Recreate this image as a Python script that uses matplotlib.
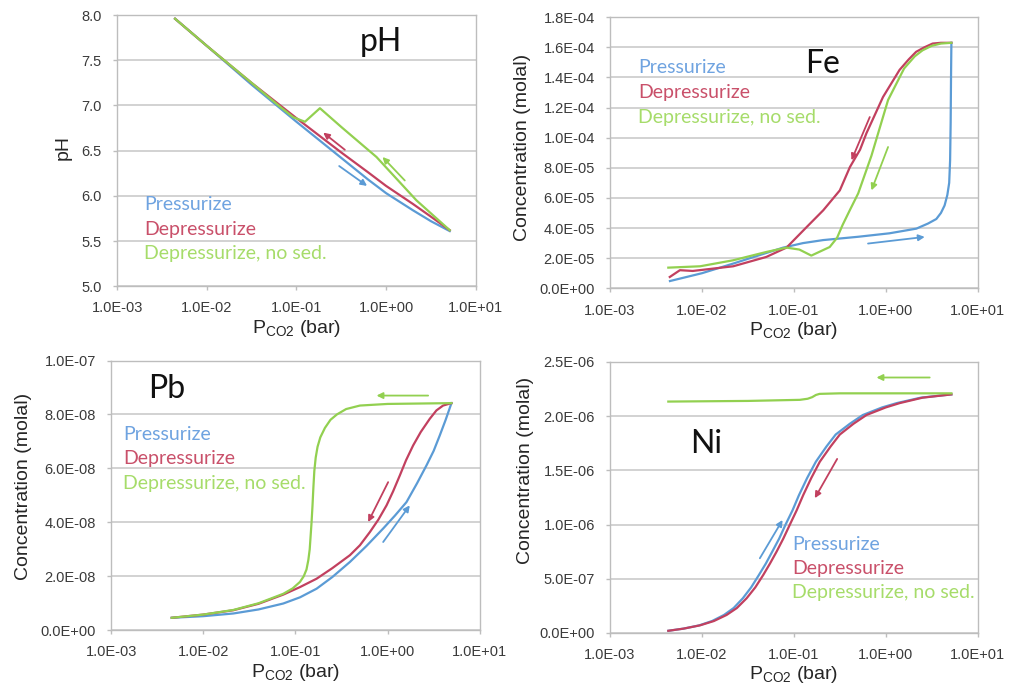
import numpy as np
import matplotlib
matplotlib.use('Agg')
import matplotlib.pyplot as plt
from matplotlib.ticker import FixedLocator, FuncFormatter, NullLocator

plt.rcParams['font.family'] = ['Liberation Sans', 'DejaVu Sans']
plt.rcParams['mathtext.default'] = 'regular'

BLUE = '#5b9bd5'
RED = '#c2405f'
GREEN = '#92d050'
TXT_BLUE = '#6fa3e0'
TXT_RED = '#c9506a'
TXT_GREEN = '#a6dc6a'
GRID = '#cfcfcf'
FRAME = '#bdbdbd'
TICK_TXT = '#3a3a3a'

series_names = ['Pressurize', 'Depressurize', 'Depressurize, no sed.']

# all pressures are given as log10(P_CO2 / bar)

# pH
ph_lp_press = [-2.354, -2.0, -1.5, -1.0, -0.5, -0.2, 0.0, 0.3, 0.5, 0.71]
ph_press = [7.96, 7.66, 7.23, 6.82, 6.42, 6.18, 6.03, 5.84, 5.72, 5.61]
ph_lp_depress = [-2.354, -2.0, -1.5, -1.0, -0.5, -0.2, 0.0, 0.3, 0.5, 0.71]
ph_depress = [7.96, 7.66, 7.25, 6.86, 6.48, 6.26, 6.11, 5.91, 5.77, 5.62]
ph_lp_nosed = [-2.354, -2.0, -1.5, -1.2, -1.036, -0.905, -0.738, -0.497, -0.107, 0.339, 0.71]
ph_nosed = [7.96, 7.66, 7.25, 7.00, 6.87, 6.82, 6.97, 6.76, 6.43, 5.95, 5.62]

# Fe concentration (molal)
fe_lp_press = [-2.348, -2.0, -1.66, -1.4, -1.116, -0.9, -0.681, -0.3, 0.04, 0.333, 0.46,
               0.55, 0.6, 0.64, 0.67, 0.69, 0.70, 0.706, 0.71, 0.714]
fe_press = [0.48e-5, 1.0e-5, 1.64e-5, 2.15e-5, 2.70e-5, 3.0e-5, 3.2e-5, 3.42e-5, 3.65e-5,
            3.96e-5, 4.3e-5, 4.6e-5, 5.0e-5, 5.5e-5, 6.2e-5, 7.0e-5, 8.5e-5, 11e-5, 14e-5,
            16.3e-5]
fe_lp_depress = [-2.35, -2.24, -2.1, -1.66, -1.3, -1.08, -0.86, -0.68, -0.5, -0.39, -0.28,
                 -0.21, -0.03, 0.15, 0.25, 0.33, 0.42, 0.51, 0.6, 0.714]
fe_depress = [0.75e-5, 1.2e-5, 1.15e-5, 1.46e-5, 2.08e-5, 2.70e-5, 4.07e-5, 5.18e-5, 6.5e-5,
              8.05e-5, 9.2e-5, 10.3e-5, 12.7e-5, 14.5e-5, 15.2e-5, 15.7e-5, 16.0e-5,
              16.25e-5, 16.3e-5, 16.3e-5]
fe_lp_nosed = [-2.366, -2.02, -1.66, -1.3, -1.08, -0.94, -0.81, -0.61, -0.53, -0.47, -0.39,
               -0.30, -0.156, 0.025, 0.2, 0.315, 0.4, 0.5, 0.6, 0.714]
fe_nosed = [1.37e-5, 1.46e-5, 1.86e-5, 2.41e-5, 2.70e-5, 2.57e-5, 2.17e-5, 2.74e-5, 3.35e-5,
            4.2e-5, 5.2e-5, 6.3e-5, 8.8e-5, 12.5e-5, 14.6e-5, 15.4e-5, 15.8e-5, 16.1e-5,
            16.25e-5, 16.3e-5]

# Pb concentration (molal)
pb_lp_press = [-2.342, -2.0, -1.674, -1.4, -1.132, -0.95, -0.77, -0.6, -0.409, -0.23, -0.048,
               0.08, 0.205, 0.32, 0.422, 0.5, 0.566, 0.63, 0.693]
pb_press = [0.46e-8, 0.52e-8, 0.62e-8, 0.77e-8, 0.99e-8, 1.22e-8, 1.54e-8, 1.97e-8, 2.53e-8,
            3.12e-8, 3.77e-8, 4.25e-8, 4.75e-8, 5.45e-8, 6.11e-8, 6.65e-8, 7.22e-8, 7.8e-8,
            8.42e-8]
pb_lp_depress = [-2.342, -2.0, -1.674, -1.4, -1.132, -0.95, -0.77, -0.6, -0.409, -0.3, -0.192,
                 -0.1, -0.011, 0.06, 0.133, 0.2, 0.277, 0.36, 0.458, 0.53, 0.602, 0.693]
pb_depress = [0.46e-8, 0.58e-8, 0.74e-8, 0.98e-8, 1.32e-8, 1.6e-8, 1.91e-8, 2.3e-8, 2.78e-8,
              3.15e-8, 3.64e-8, 4.1e-8, 4.63e-8, 5.15e-8, 5.74e-8, 6.3e-8, 6.85e-8, 7.35e-8,
              7.84e-8, 8.15e-8, 8.33e-8, 8.42e-8]
pb_lp_nosed = [-2.342, -2.0, -1.674, -1.4, -1.132, -1.03, -0.951, -0.91, -0.88, -0.86, -0.845,
               -0.835, -0.825, -0.815, -0.805, -0.795, -0.78, -0.76, -0.73, -0.68, -0.62,
               -0.55, -0.45, -0.3, 0.0, 0.693]
pb_nosed = [0.46e-8, 0.58e-8, 0.75e-8, 1.0e-8, 1.35e-8, 1.55e-8, 1.79e-8, 2.0e-8, 2.25e-8,
            2.6e-8, 3.0e-8, 3.5e-8, 4.0e-8, 4.6e-8, 5.3e-8, 5.9e-8, 6.4e-8, 6.8e-8, 7.15e-8,
            7.5e-8, 7.8e-8, 8.0e-8, 8.2e-8, 8.33e-8, 8.39e-8, 8.42e-8]

# Ni concentration (molal)
ni_lp_press = [-2.366, -2.2, -2.03, -1.89, -1.76, -1.655, -1.555, -1.465, -1.38, -1.305,
               -1.235, -1.16, -1.09, -1.015, -0.945, -0.855, -0.76, -0.645, -0.545, -0.39,
               -0.25, -0.04, 0.12, 0.38, 0.714]
ni_press = [0.02e-6, 0.04e-6, 0.07e-6, 0.11e-6, 0.166e-6, 0.23e-6, 0.32e-6, 0.42e-6,
            0.535e-6, 0.64e-6, 0.75e-6, 0.87e-6, 1.0e-6, 1.13e-6, 1.27e-6, 1.43e-6, 1.58e-6,
            1.72e-6, 1.83e-6, 1.93e-6, 2.01e-6, 2.08e-6, 2.12e-6, 2.17e-6, 2.2e-6]
ni_lp_depress = [-2.366, -2.2, -2.022, -1.87, -1.732, -1.62, -1.514, -1.42, -1.333, -1.26,
                 -1.188, -1.115, -1.043, -0.97, -0.899, -0.81, -0.717, -0.6, -0.5, -0.35,
                 -0.21, 0.0, 0.152, 0.4, 0.714]
ni_depress = [0.02e-6, 0.04e-6, 0.07e-6, 0.11e-6, 0.166e-6, 0.23e-6, 0.32e-6, 0.42e-6,
              0.535e-6, 0.64e-6, 0.75e-6, 0.87e-6, 1.0e-6, 1.13e-6, 1.27e-6, 1.43e-6, 1.58e-6,
              1.72e-6, 1.83e-6, 1.93e-6, 2.01e-6, 2.08e-6, 2.12e-6, 2.17e-6, 2.2e-6]
ni_lp_nosed = [-2.366, -1.5, -0.935, -0.85, -0.8, -0.76, -0.72, -0.5, 0.714]
ni_nosed = [2.134e-6, 2.14e-6, 2.15e-6, 2.16e-6, 2.175e-6, 2.195e-6, 2.205e-6, 2.21e-6, 2.21e-6]

# direction arrows: (log10 P start, log10 P end, y start, y end)
ph_arrows = [(-0.523, -0.212, 6.33, 6.11), (-0.460, -0.701, 6.51, 6.70),
             (0.209, -0.040, 6.17, 6.43)]
fe_arrows = [(-0.193, 0.424, 2.97e-5, 3.41e-5), (-0.174, -0.373, 11.37e-5, 8.5e-5),
             (0.025, -0.156, 9.38e-5, 6.5e-5)]
pb_arrows = [(-0.048, 0.241, 3.27e-8, 4.63e-8), (0.006, -0.211, 5.49e-8, 4.01e-8),
             (0.440, -0.120, 8.70e-8, 8.70e-8)]
ni_arrows = [(-1.37, -1.123, 0.689e-6, 1.042e-6), (-0.529, -0.772, 1.605e-6, 1.243e-6),
             (0.478, -0.101, 2.356e-6, 2.356e-6)]

x_ticks = [1e-3, 1e-2, 1e-1, 1e0, 1e1]


def sci(v, pos):
    return f'{v:.1E}'


def fixed(v, pos):
    return f'{v:.1f}'


def panel(rect, curves, arrows, yticks, yfmt, ylabel, ylab_xy, title, title_xy, leg_xy):
    ax = fig.add_axes(rect)
    for (lp, ys), c in zip(curves, [BLUE, RED, GREEN]):
        ax.plot(np.power(10.0, lp), ys, color=c, lw=1.6, zorder=3)
    for (l0, l1, y0, y1), c in zip(arrows, [BLUE, RED, GREEN]):
        ax.annotate('', xy=(10 ** l1, y1), xytext=(10 ** l0, y0),
                    arrowprops=dict(arrowstyle='-|>', color=c, lw=1.3,
                                    mutation_scale=9, shrinkA=0, shrinkB=0),
                    zorder=4)
    ax.set_xscale('log')
    ax.set_xlim(x_ticks[0], x_ticks[-1])
    ax.set_ylim(yticks[0], yticks[-1])
    ax.xaxis.set_major_locator(FixedLocator(x_ticks))
    ax.xaxis.set_minor_locator(NullLocator())
    ax.xaxis.set_major_formatter(FuncFormatter(sci))
    ax.yaxis.set_major_locator(FixedLocator(yticks))
    ax.yaxis.set_major_formatter(FuncFormatter(yfmt))
    ax.grid(axis='y', color=GRID, lw=1.3)
    ax.set_axisbelow(True)
    for s in ax.spines.values():
        s.set_color(FRAME)
        s.set_linewidth(1.0)
    ax.tick_params(length=3, width=1, color=FRAME, labelsize=10.5, labelcolor=TICK_TXT)
    ax.tick_params(axis='x', pad=8)
    ax.tick_params(axis='y', pad=8)
    ax.set_xlabel(r'P$_{CO2}$ (bar)', fontsize=14, color='#262626', va='center')
    ax.xaxis.set_label_coords(0.5, -0.155)
    ax.set_ylabel(ylabel, fontsize=14, color='#262626', va='center')
    ax.yaxis.set_label_coords(*ylab_xy)
    ax.text(*title_xy, title, transform=ax.transAxes, fontsize=23, family='Lato',
            ha='center', va='center', color='#111111')
    lx, ly0, dy = leg_xy
    for i, (name, c) in enumerate(zip(series_names, [TXT_BLUE, TXT_RED, TXT_GREEN])):
        ax.text(lx, ly0 - i * dy, name, transform=ax.transAxes, fontsize=14, family='Lato',
                color=c, ha='left', va='center')
    return ax


fig = plt.figure(figsize=(10.1, 6.88), dpi=100)
conc = 'Concentration (molal)'

panel([0.116, 0.584, 0.355, 0.394],
      [(ph_lp_press, ph_press), (ph_lp_depress, ph_depress), (ph_lp_nosed, ph_nosed)],
      ph_arrows, [5.0, 5.5, 6.0, 6.5, 7.0, 7.5, 8.0], fixed, 'pH', (-0.150, 0.51),
      'pH', (0.735, 0.900), (0.075, 0.303, 0.092))

panel([0.604, 0.581, 0.364, 0.394],
      [(fe_lp_press, fe_press), (fe_lp_depress, fe_depress), (fe_lp_nosed, fe_nosed)],
      fe_arrows, [i * 2e-5 for i in range(10)], sci, conc, (-0.239, 0.52),
      'Fe', (0.579, 0.827), (0.076, 0.815, 0.092))

panel([0.110, 0.084, 0.365, 0.392],
      [(pb_lp_press, pb_press), (pb_lp_depress, pb_depress), (pb_lp_nosed, pb_nosed)],
      pb_arrows, [i * 2e-8 for i in range(6)], sci, conc, (-0.238, 0.533),
      'Pb', (0.152, 0.896), (0.0325, 0.726, 0.091))

panel([0.604, 0.080, 0.364, 0.394],
      [(ni_lp_press, ni_press), (ni_lp_depress, ni_depress), (ni_lp_nosed, ni_nosed)],
      ni_arrows, [i * 5e-7 for i in range(6)], sci, conc, (-0.231, 0.598),
      'Ni', (0.261, 0.697), (0.495, 0.328, 0.090))

fig.savefig('out.png', dpi=100)
